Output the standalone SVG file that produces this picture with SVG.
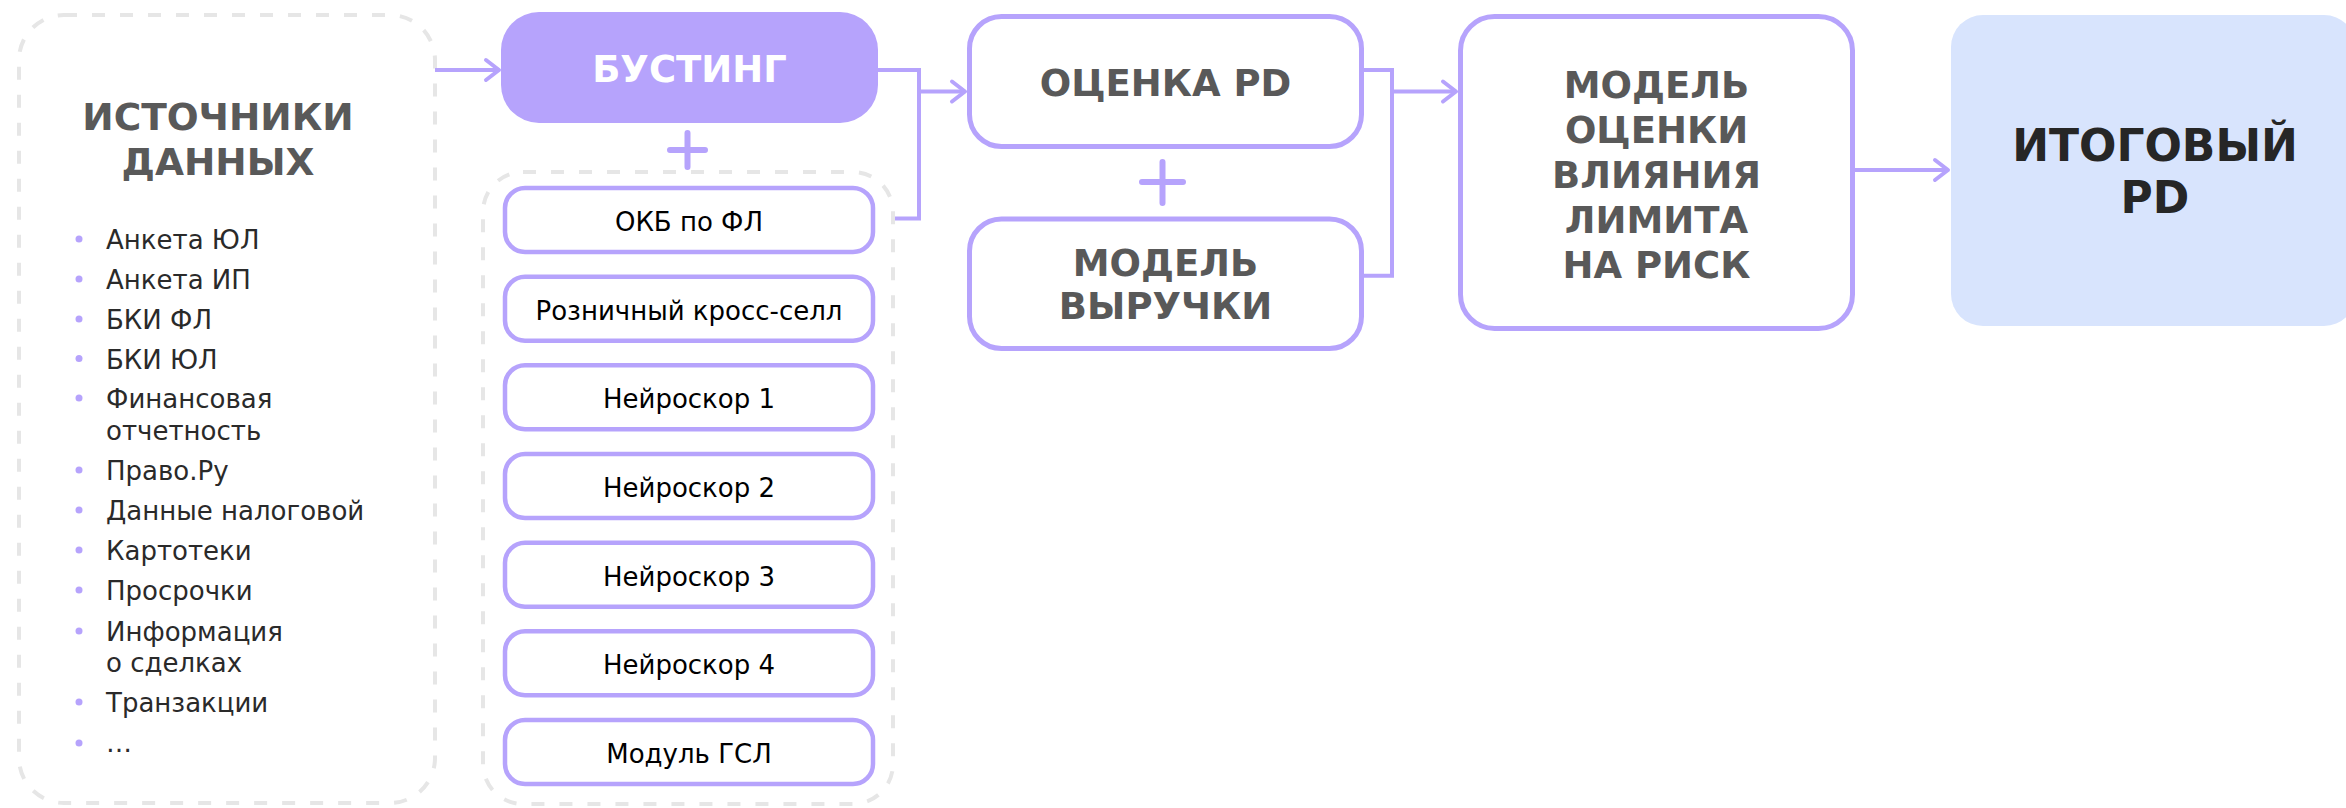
<svg xmlns="http://www.w3.org/2000/svg" width="2346" height="808" viewBox="0 0 2346 808">
<defs>
<style>
.dash{fill:none;stroke:#e6e6e6;stroke-width:4;stroke-dasharray:13 15}
.box{fill:#ffffff;stroke:#b6a3fc;stroke-width:5}
.sub{fill:#ffffff;stroke:#b6a3fc;stroke-width:4.5}
.hdr{font-family:"DejaVu Sans",Verdana,sans-serif;font-weight:bold;font-size:37px;fill:#595959;text-anchor:middle}
.item{font-family:"DejaVu Sans",Verdana,sans-serif;font-size:26px;fill:#000000;text-anchor:middle}
.li{font-family:"DejaVu Sans",Verdana,sans-serif;font-size:26px;fill:#2a2a2a}
.dot{fill:#b6a3fc}
.con{fill:none;stroke:#b6a3fc;stroke-width:4}
.plus{fill:none;stroke:#b6a3fc;stroke-width:6;stroke-linecap:round}
</style>
<marker id="arr" markerUnits="userSpaceOnUse" markerWidth="30" markerHeight="30" viewBox="-20 -15 30 30" refX="0" refY="0" orient="auto">
<path d="M-13,-10 L0,0 L-13,10" fill="none" stroke="#b6a3fc" stroke-width="4" stroke-linecap="round" stroke-linejoin="round"/>
</marker>
</defs>
<rect width="2346" height="808" fill="#ffffff"/>

<g id="sources">
<rect class="dash" x="19" y="15" width="416" height="788" rx="45"/>
<text class="hdr" x="218" y="130" style="font-size:37.5px">ИСТОЧНИКИ</text>
<text class="hdr" x="218" y="175" style="font-size:37.5px">ДАННЫХ</text>
<g class="dots">
<circle class="dot" cx="79" cy="239" r="3.5"/>
<circle class="dot" cx="79" cy="279" r="3.5"/>
<circle class="dot" cx="79" cy="319" r="3.5"/>
<circle class="dot" cx="79" cy="358.5" r="3.5"/>
<circle class="dot" cx="79" cy="398" r="3.5"/>
<circle class="dot" cx="79" cy="470" r="3.5"/>
<circle class="dot" cx="79" cy="510" r="3.5"/>
<circle class="dot" cx="79" cy="550" r="3.5"/>
<circle class="dot" cx="79" cy="590" r="3.5"/>
<circle class="dot" cx="79" cy="631" r="3.5"/>
<circle class="dot" cx="79" cy="702" r="3.5"/>
<circle class="dot" cx="79" cy="743" r="3.5"/>
</g>
<text class="li" x="106" y="249">Анкета ЮЛ</text>
<text class="li" x="106" y="289">Анкета ИП</text>
<text class="li" x="106" y="329">БКИ ФЛ</text>
<text class="li" x="106" y="368.5">БКИ ЮЛ</text>
<text class="li" x="106" y="408">Финансовая</text>
<text class="li" x="106" y="440">отчетность</text>
<text class="li" x="106" y="480">Право.Ру</text>
<text class="li" x="106" y="520">Данные налоговой</text>
<text class="li" x="106" y="560">Картотеки</text>
<text class="li" x="106" y="600">Просрочки</text>
<text class="li" x="106" y="641">Информация</text>
<text class="li" x="106" y="672">о сделках</text>
<text class="li" x="106" y="712">Транзакции</text>
<text class="li" x="106" y="752">…</text>
</g>

<g id="boosting">
<rect x="501" y="12" width="377" height="111" rx="38" fill="#b6a3fc"/>
<text class="hdr" x="689.5" y="82" style="fill:#ffffff">БУСТИНГ</text>
</g>

<g id="plus1">
<path class="plus" d="M670,150 H705 M687.5,133 V167"/>
</g>

<g id="submodels">
<rect class="dash" x="483" y="172" width="410" height="632" rx="40"/>
<g id="okb"><rect class="sub" x="505" y="188" width="368" height="64" rx="20"/><text class="item" x="689" y="231">ОКБ по ФЛ</text></g>
<g id="retail"><rect class="sub" x="505" y="276.7" width="368" height="64" rx="20"/><text class="item" x="689" y="319.7">Розничный кросс-селл</text></g>
<g id="ns1"><rect class="sub" x="505" y="365.3" width="368" height="64" rx="20"/><text class="item" x="689" y="408.3">Нейроскор 1</text></g>
<g id="ns2"><rect class="sub" x="505" y="454" width="368" height="64" rx="20"/><text class="item" x="689" y="497">Нейроскор 2</text></g>
<g id="ns3"><rect class="sub" x="505" y="542.7" width="368" height="64" rx="20"/><text class="item" x="689" y="585.7">Нейроскор 3</text></g>
<g id="ns4"><rect class="sub" x="505" y="631.3" width="368" height="64" rx="20"/><text class="item" x="689" y="674.3">Нейроскор 4</text></g>
<g id="gsl"><rect class="sub" x="505" y="720" width="368" height="64" rx="20"/><text class="item" x="689" y="763">Модуль ГСЛ</text></g>
</g>

<g id="pd">
<rect class="box" x="969.5" y="16.5" width="392" height="130" rx="32"/>
<text class="hdr" x="1165.5" y="96">ОЦЕНКА PD</text>
</g>

<g id="plus2">
<path class="plus" d="M1142,182 H1183 M1162.5,162 V203"/>
</g>

<g id="revenue">
<rect class="box" x="969.5" y="219" width="392" height="129.5" rx="32"/>
<text class="hdr" x="1165.5" y="275.5">МОДЕЛЬ</text>
<text class="hdr" x="1165.5" y="319">ВЫРУЧКИ</text>
</g>

<g id="limit">
<rect class="box" x="1460.5" y="16.5" width="392" height="312" rx="34"/>
<text class="hdr" x="1656.5" y="97.5">МОДЕЛЬ</text>
<text class="hdr" x="1656.5" y="142.5">ОЦЕНКИ</text>
<text class="hdr" x="1656.5" y="187.5">ВЛИЯНИЯ</text>
<text class="hdr" x="1656.5" y="232.5">ЛИМИТА</text>
<text class="hdr" x="1656.5" y="277.5">НА РИСК</text>
</g>

<g id="final">
<rect x="1951" y="15" width="405" height="311" rx="32" fill="#d8e4fd"/>
<text class="hdr" x="2155" y="161" style="font-size:44px;fill:#262626">ИТОГОВЫЙ</text>
<text class="hdr" x="2155" y="212.5" style="font-size:44px;fill:#262626">PD</text>
</g>

<g id="connectors">
<path class="con" d="M435,70 H499" marker-end="url(#arr)"/>
<path class="con" d="M878,70 H919 V218.5 H895"/>
<path class="con" d="M919,91.5 H965" marker-end="url(#arr)"/>
<path class="con" d="M1364,70 H1392 V275.7 H1364"/>
<path class="con" d="M1392,91.5 H1456" marker-end="url(#arr)"/>
<path class="con" d="M1855,170 H1948" marker-end="url(#arr)"/>
</g>
</svg>
